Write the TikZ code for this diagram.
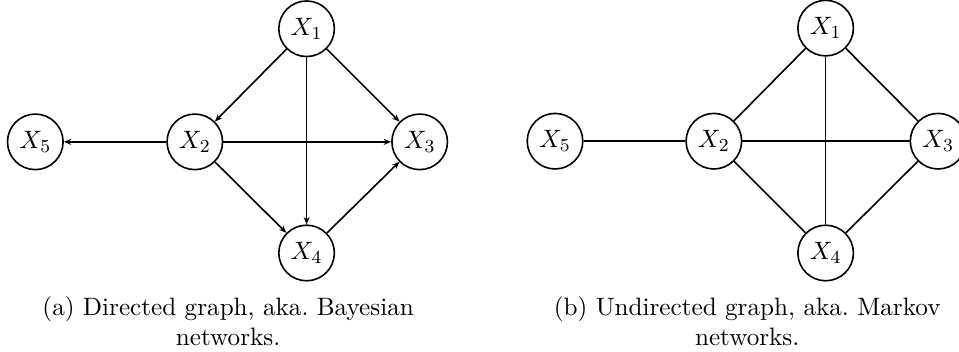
\documentclass[tikz,border=0pt]{standalone}
\usepackage{amsmath,amssymb}
\usepackage{tikz}
\usetikzlibrary{arrows.meta,positioning}
\tikzset{
  rv/.style={draw,circle,line width=0.7pt,minimum size=8.5mm,inner sep=0pt,
    font=\fontsize{10.95}{13.6}\selectfont},
  arr/.style={-{Stealth[length=3.2pt,width=2.6pt]},line width=0.7pt},
  lnk/.style={line width=0.7pt},
  subcap/.style={align=center,inner sep=0pt,font=\fontsize{10.95}{13.2}\selectfont},
}
\begin{document}
\begin{tikzpicture}[node distance=1.71cm,on grid]
\useasboundingbox (0,0) rectangle (14.67,5.37);
% (a) directed graph
\node[rv] (X2) at (2.98,3.20) {$X_2$};
\node[rv,above right=1.73cm and 1.71cm of X2] (X1) {$X_1$};
\node[rv,right=3.44cm of X2] (X3) {$X_3$};
\node[rv,below right=1.70cm and 1.71cm of X2] (X4) {$X_4$};
\node[rv,left=2.44cm of X2] (X5) {$X_5$};
\draw[arr] (X1)--(X2); \draw[arr] (X1)--(X3); \draw[arr] (X1)--(X4);
\draw[arr] (X2)--(X5); \draw[arr] (X2)--(X3); \draw[arr] (X2)--(X4);
\draw[arr] (X4)--(X3);
\node[subcap] (capA) at (3.49,0.46) {(a) Directed graph, aka.\ Bayesian\\networks.};
% (b) undirected graph
\node[rv] (Y2) at (10.92,3.21) {$X_2$};
\node[rv,above right=1.73cm and 1.71cm of Y2] (Y1) {$X_1$};
\node[rv,right=3.43cm of Y2] (Y3) {$X_3$};
\node[rv,below right=1.71cm and 1.71cm of Y2] (Y4) {$X_4$};
\node[rv,left=2.43cm of Y2] (Y5) {$X_5$};
\draw[lnk] (Y5)--(Y2); \draw[lnk] (Y2)--(Y1); \draw[lnk] (Y2)--(Y3);
\draw[lnk] (Y2)--(Y4); \draw[lnk] (Y1)--(Y3); \draw[lnk] (Y1)--(Y4);
\draw[lnk] (Y4)--(Y3);
\node[subcap] (capB) at (11.43,0.46) {(b) Undirected graph, aka.\ Markov\\networks.};
\end{tikzpicture}
\end{document}
